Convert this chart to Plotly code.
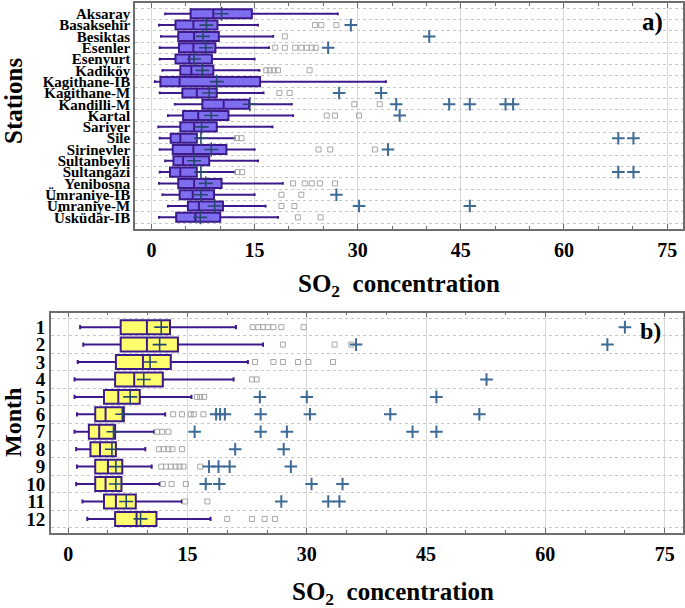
import plotly.graph_objects as go
from plotly.subplots import make_subplots

# Panel a) SO2 by station
stations = ["Aksaray", "Basaksehir", "Besiktas", "Esenler", "Esenyurt", "Kadiköy",
            "Kagithane-IB", "Kagithane-M", "Kandilli-M", "Kartal", "Sariyer", "Sile",
            "Sirinevler", "Sultanbeyli", "Sultangâzi", "Yenibosna", "Ümraniye-IB",
            "Ümraniye-M", "Üsküdâr-IB"]
st_low = [2.0, 1.1, 1.4, 1.2, 1.2, 1.6, 0.5, 1.2, 3.4, 2.4, 1.0, 1.2, 1.2, 2.0, 1.2, 1.1, 1.6, 2.4, 1.1]
st_q1 = [5.7, 3.5, 3.9, 4.0, 3.5, 4.2, 1.3, 4.5, 7.4, 4.6, 4.2, 2.8, 3.1, 3.2, 2.7, 3.9, 4.1, 5.3, 3.6]
st_med = [9.0, 6.1, 6.2, 6.1, 5.5, 5.8, 4.1, 6.6, 10.5, 6.8, 6.2, 4.2, 6.1, 4.6, 4.2, 6.2, 6.0, 6.9, 6.4]
st_q3 = [14.6, 9.6, 9.8, 9.3, 8.8, 9.0, 15.8, 9.5, 14.2, 11.2, 9.5, 6.6, 10.9, 8.4, 6.6, 10.2, 9.1, 10.4, 10.0]
st_high = [27.1, 15.5, 17.7, 17.1, 15.0, 15.7, 34.1, 16.3, 20.4, 20.6, 17.6, 12.1, 15.0, 15.5, 12.1, 19.1, 15.0, 16.6, 18.4]
st_mean = [10.2, 8.0, 7.5, 7.9, 6.2, 7.4, 9.5, 8.4, 14.3, 8.7, 7.3, 7.2, 8.7, 6.2, 7.2, 7.9, 7.2, 9.2, 7.1]
st_outliers = [
    [],
    [23.8, 24.7, 26.9],
    [19.4],
    [18.0, 19.4, 20.9, 21.8, 22.6, 23.3, 23.9],
    [],
    [16.7, 17.2, 17.8, 18.4, 23.0],
    [],
    [18.6, 20.1],
    [29.5, 33.2],
    [25.5, 26.7, 30.2],
    [],
    [12.4, 13.1],
    [24.3, 26.0, 32.5],
    [],
    [12.5, 13.2],
    [20.6, 22.3, 23.3, 24.5, 26.7],
    [18.9, 21.8],
    [18.9, 20.8],
    [21.3, 24.6],
]
st_extremes = [
    [], [29.0], [40.4], [25.7], [], [], [], [27.3, 33.4],
    [35.6, 43.3, 46.3, 51.5, 52.6], [36.1], [], [67.9, 70.1], [34.4], [],
    [67.9, 70.1], [], [26.9], [30.2, 46.3], [],
]

# Panel b) SO2 by month
months = ["1", "2", "3", "4", "5", "6", "7", "8", "9", "10", "11", "12"]
mo_low = [1.5, 1.9, 1.2, 0.8, 0.8, 1.1, 0.8, 1.0, 1.1, 1.0, 1.8, 2.4]
mo_q1 = [6.6, 6.6, 6.0, 5.9, 4.5, 3.4, 2.6, 2.8, 3.4, 3.4, 4.5, 5.9]
mo_med = [9.9, 9.9, 9.4, 8.3, 6.3, 4.7, 3.9, 4.0, 5.0, 4.7, 6.0, 8.6]
mo_q3 = [12.8, 13.8, 12.9, 11.9, 9.0, 7.0, 5.9, 6.0, 6.8, 6.7, 8.5, 11.1]
mo_high = [21.1, 24.5, 22.6, 20.8, 15.5, 12.2, 10.8, 9.7, 10.5, 11.5, 14.3, 17.9]
mo_mean = [11.7, 11.5, 10.3, 9.5, 7.8, 6.8, 5.7, 5.5, 6.0, 6.0, 7.3, 9.1]
mo_outliers = [
    [23.2, 23.9, 24.5, 25.1, 25.8, 26.8, 29.6],
    [27.0, 33.5, 35.6],
    [23.5, 25.8, 27.0, 28.9, 30.2, 33.3],
    [23.1, 23.7],
    [16.2, 16.6, 17.1],
    [13.2, 14.3, 15.4, 15.8, 17.0],
    [11.2, 11.8, 12.6],
    [11.4, 12.0, 12.6, 13.1, 14.3],
    [11.7, 12.3, 12.9, 13.5, 14.0, 14.5, 16.6],
    [11.9, 13.0, 14.8],
    [14.7, 17.5],
    [20.0, 23.1, 24.7, 26.0],
]
mo_extremes = [
    [70.0], [36.2, 67.8], [], [52.6], [24.1, 30.0, 46.3],
    [18.6, 19.1, 19.7, 24.2, 30.4, 40.5, 51.7], [15.9, 24.2, 27.5, 43.3, 46.3],
    [21.0, 27.1], [17.7, 18.9, 20.3, 28.0], [17.3, 19.0, 30.6, 34.5],
    [26.8, 32.7, 34.1], [],
]

SERIF = "Liberation Serif, Times New Roman, serif"
OUTLINE = "#3C1A8C"
MEAN_COL = "#27466F"
FAR_COL = "#3E6A96"
SQ_COL = "#A6A6A6"


def flatten(cats, groups):
    xs, ys = [], []
    for c, vals in zip(cats, groups):
        for v in vals:
            xs.append(v)
            ys.append(c)
    return xs, ys


fig = make_subplots(rows=2, cols=1)

panels = [
    (1, stations, st_low, st_q1, st_med, st_q3, st_high, st_mean, st_outliers, st_extremes, "#7F6FF0"),
    (2, months, mo_low, mo_q1, mo_med, mo_q3, mo_high, mo_mean, mo_outliers, mo_extremes, "#FFFF6E"),
]

for row, cats, lo, q1, med, q3, hi, mean, outl, ext, fill in panels:
    fig.add_trace(go.Box(
        y=cats, q1=q1, median=med, q3=q3, lowerfence=lo, upperfence=hi,
        orientation="h", fillcolor=fill, width=0.8, whiskerwidth=0.3,
        line=dict(color=OUTLINE, width=2), boxpoints=False, hoverinfo="skip",
        showlegend=False), row=row, col=1)
    fig.add_trace(go.Scatter(
        x=mean, y=cats, mode="markers", showlegend=False,
        marker=dict(symbol="cross-thin", size=10, line=dict(color=MEAN_COL, width=1.6))),
        row=row, col=1)
    ox, oy = flatten(cats, outl)
    fig.add_trace(go.Scatter(
        x=ox, y=oy, mode="markers", showlegend=False,
        marker=dict(symbol="square-open", size=5, color=SQ_COL, line=dict(width=1))),
        row=row, col=1)
    ex, ey = flatten(cats, ext)
    fig.add_trace(go.Scatter(
        x=ex, y=ey, mode="markers", showlegend=False,
        marker=dict(symbol="cross-thin", size=9, line=dict(color=FAR_COL, width=2))),
        row=row, col=1)

xaxis_style = dict(
    range=[-2.4, 77.3], tickmode="linear", tick0=0, dtick=15,
    showgrid=True, gridcolor="#D9D9D9", gridwidth=1, zeroline=False,
    showline=True, linecolor="#6E6E6E", linewidth=1.5, mirror="ticks",
    ticks="inside", ticklen=5, tickcolor="#6E6E6E", ticklabelstandoff=2,
    minor=dict(dtick=5, tick0=0, ticks="inside", ticklen=3, tickcolor="#6E6E6E", showgrid=False),
    tickfont=dict(family=SERIF, size=20, color="black", weight="bold"),
)
fig.update_xaxes(**xaxis_style)
fig.update_xaxes(domain=[0.197, 0.997], row=1, col=1)
fig.update_xaxes(domain=[0.074, 0.997], range=[-2.2, 77.3], row=2, col=1)

yaxis_style = dict(
    type="category", tickson="boundaries", showgrid=True, gridcolor="#C8C8C8",
    griddash="dot", gridwidth=1, zeroline=False, ticks="",
    showline=True, linecolor="#6E6E6E", linewidth=1.5, mirror=True,
)
fig.update_yaxes(**yaxis_style)
fig.update_yaxes(domain=[0.623, 0.995], range=[19.05, -0.95],
                 tickmode="array", tickvals=stations, ticktext=stations,
                 tickfont=dict(family=SERIF, size=15, color="black", weight="bold"),
                 row=1, col=1)
fig.update_yaxes(domain=[0.123, 0.486], range=[11.82, -0.84],
                 tickmode="array", tickvals=months, ticktext=months,
                 tickfont=dict(family=SERIF, size=19, color="black", weight="bold"),
                 row=2, col=1)

title_text = "SO<sub>2</sub>\u00a0\u00a0concentration"
annotations = [
    dict(text=title_text, x=399 / 685, y=1 - 285 / 608, font_size=25),
    dict(text=title_text, x=393 / 685, y=1 - 593 / 608, font_size=25),
    dict(text="Stations", x=13 / 685, y=1 - 101 / 608, font_size=25, textangle=-90),
    dict(text="Month", x=13 / 685, y=1 - 423 / 608, font_size=24, textangle=-90),
    dict(text="a)", x=652 / 685, y=1 - 22 / 608, font_size=25),
    dict(text="b)", x=650 / 685, y=1 - 331 / 608, font_size=24),
]
for a in annotations:
    fig.add_annotation(
        text=a["text"], x=a["x"], y=a["y"], xref="paper", yref="paper",
        xanchor="center", yanchor="middle", showarrow=False,
        textangle=a.get("textangle", 0),
        font=dict(family=SERIF, size=a["font_size"], color="black", weight="bold"))

fig.update_layout(
    width=685, height=608,
    margin=dict(l=0, r=0, t=0, b=0),
    paper_bgcolor="white", plot_bgcolor="white",
    showlegend=False,
)

fig.write_html("out.html", config={"displayModeBar": False},
               post_script="document.body.style.margin = '0px';")
